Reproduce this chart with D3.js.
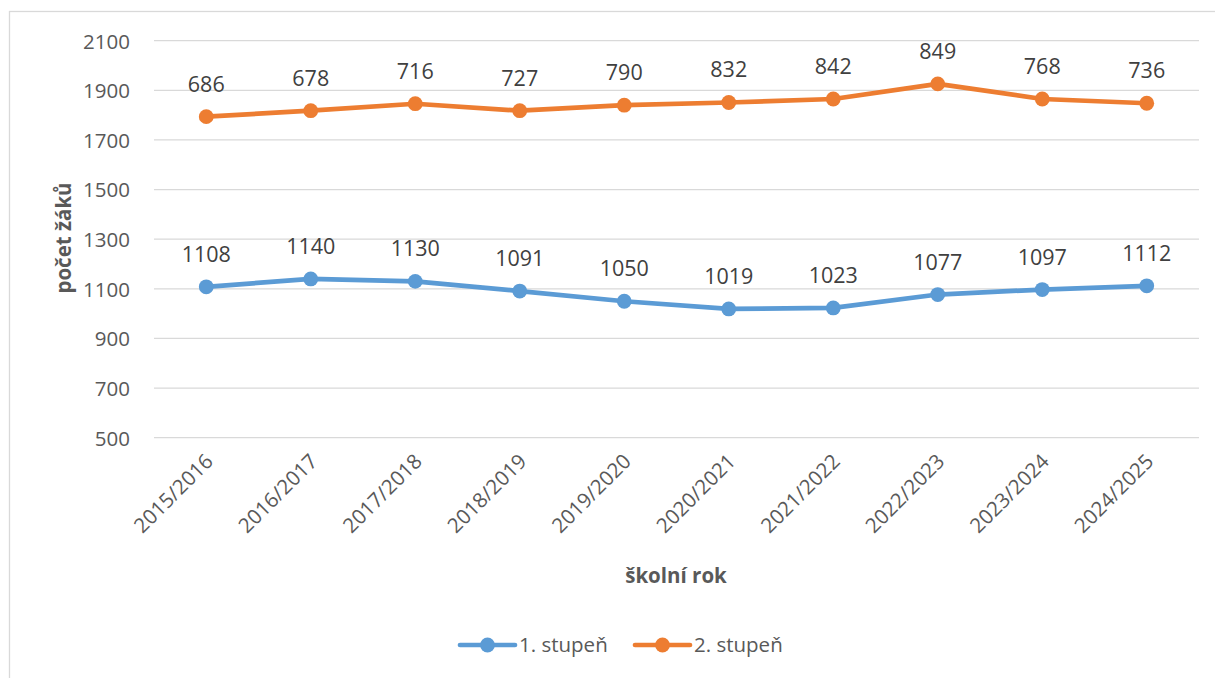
<!DOCTYPE html>
<html><head><meta charset="utf-8">
<script src="https://cdn.jsdelivr.net/npm/d3@7/dist/d3.min.js"></script>
<style>
html,body{margin:0;padding:0;background:#fff;}
text{font-family:"Open Sans","Liberation Sans",sans-serif;}
</style></head>
<body>
<svg id="chart" width="1215" height="678"></svg>
<script>
const categories = ["2015/2016","2016/2017","2017/2018","2018/2019","2019/2020","2020/2021","2021/2022","2022/2023","2023/2024","2024/2025"];
const stupen1 = [1108,1140,1130,1091,1050,1019,1023,1077,1097,1112];
const stupen2 = [686,678,716,727,790,832,842,849,768,736];
const seriesNames = ["1. stupeň","2. stupeň"];
const yTicks = [500,700,900,1100,1300,1500,1700,1900,2100];
const colors = ["#5B9BD5","#ED7D31"];

(function(){
const svg = d3.select("#chart");
// outer border
svg.append("rect").attr("x",9.5).attr("y",11.5).attr("width",1215).attr("height",700)
  .attr("fill","none").attr("stroke","#d9d9d9").attr("stroke-width",1.3);

const pLeft=154, pRight=1199, pTop=40.7, pBottom=437.7;
const x = d3.scaleBand().domain(categories).range([pLeft,pRight]);
const y = d3.scaleLinear().domain([500,2100]).range([pBottom,pTop]);
const cx = d => x(d)+x.bandwidth()/2;

// gridlines
svg.append("g").selectAll("line").data(yTicks).join("line")
  .attr("x1",pLeft).attr("x2",pRight).attr("y1",d=>y(d)).attr("y2",d=>y(d))
  .attr("stroke","#d9d9d9").attr("stroke-width",1.3);

// y axis labels
const yAxis = d3.axisLeft(y).tickValues(yTicks).tickFormat(d3.format("d")).tickSize(0).tickPadding(0);
const gy = svg.append("g").attr("transform",`translate(130,0)`).call(yAxis);
gy.select(".domain").remove();
gy.selectAll("text").attr("font-size","20.5px").attr("fill","#595959")
  .attr("font-family",'"Open Sans","Liberation Sans",sans-serif').attr("dy","0.36em");

// x axis labels
const xAxis = d3.axisBottom(x).tickSize(0).tickPadding(0);
const gx = svg.append("g").attr("transform",`translate(0,${pBottom})`).call(xAxis);
gx.select(".domain").remove();
gx.selectAll("text").attr("font-size","20.5px").attr("fill","#595959")
  .attr("font-family",'"Open Sans","Liberation Sans",sans-serif')
  .attr("text-anchor","end").attr("dy",0).attr("y",0)
  .attr("transform","translate(8,25) rotate(-45)");

// stacked values
const s1 = categories.map((c,i)=>({c, v:stupen1[i], y:stupen1[i]}));
const s2 = categories.map((c,i)=>({c, v:stupen2[i], y:stupen1[i]+stupen2[i]}));
const allSeries = [s1,s2];

const line = d3.line().x(d=>cx(d.c)).y(d=>y(d.y));
allSeries.forEach((s,k)=>{
  svg.append("path").datum(s).attr("d",line).attr("fill","none")
    .attr("stroke",colors[k]).attr("stroke-width",4.7).attr("stroke-linejoin","round");
  svg.append("g").selectAll("circle").data(s).join("circle")
    .attr("cx",d=>cx(d.c)).attr("cy",d=>y(d.y)).attr("r",7.4).attr("fill",colors[k]);
  svg.append("g").selectAll("text").data(s).join("text")
    .attr("x",d=>cx(d.c)).attr("y",d=>y(d.y)-25).attr("text-anchor","middle")
    .attr("font-size","21.5px").attr("fill","#404040").text(d=>d.v);
});

// axis titles
svg.append("text").attr("transform","translate(71,238) rotate(-90)").attr("text-anchor","middle")
  .attr("font-size","20.5px").attr("font-weight","bold").attr("fill","#595959").text("počet žáků");
svg.append("text").attr("x",676).attr("y",583).attr("text-anchor","middle")
  .attr("font-size","20.5px").attr("font-weight","bold").attr("fill","#595959").text("školní rok");

// legend
const legX = [460,635];
seriesNames.forEach((n,k)=>{
  const g = svg.append("g").attr("transform",`translate(${legX[k]},645)`);
  g.append("line").attr("x1",0).attr("x2",55).attr("stroke",colors[k]).attr("stroke-width",4.7).attr("stroke-linecap","round");
  g.append("circle").attr("cx",27.5).attr("r",7.4).attr("fill",colors[k]);
  g.append("text").attr("x",59).attr("y",7).attr("font-size","20.5px").attr("fill","#595959").text(n);
});
})();
</script>
</body></html>
